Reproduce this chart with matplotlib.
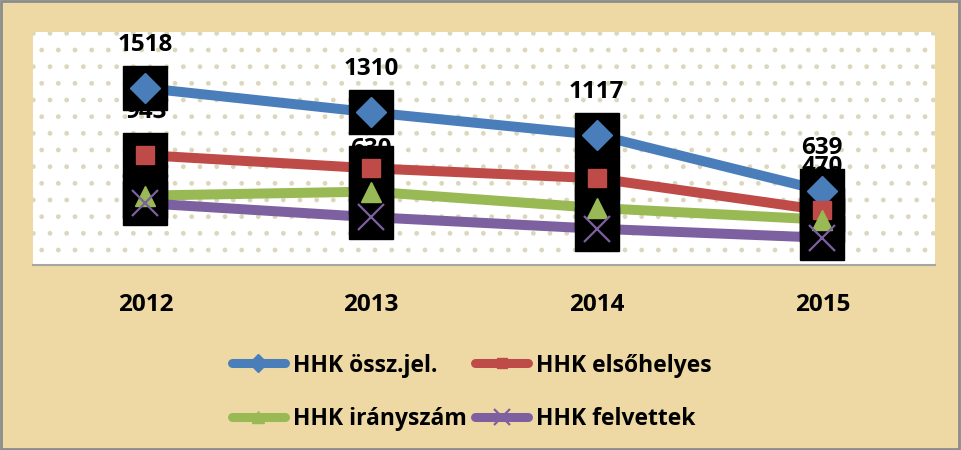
import matplotlib.pyplot as plt
from matplotlib.lines import Line2D
import numpy as np

plt.rcParams['font.family'] = ['Open Sans', 'DejaVu Sans']

# data
years = ['2012', '2013', '2014', '2015']
ossz_jel = [1518, 1310, 1117, 639]
elsohelyes = [943, 830, 745, 470]
iranyszam = [596, 630, 490, 390]
felvettek = [530, 411, 312, 235]

series = [
    ('HHK össz.jel.', ossz_jel, '#4a7ebb', 'D', 15, 1.0),
    ('HHK elsőhelyes', elsohelyes, '#be4b48', 's', 13, 1.0),
    ('HHK irányszám', iranyszam, '#98b954', '^', 15, 1.0),
    ('HHK felvettek', felvettek, '#7d60a0', 'x', 19, 1.6),
]

fig = plt.figure(figsize=(9.61, 4.5), dpi=100, facecolor='#eed9a4')
fig.patches.append(plt.Rectangle((0.001, 0.002), 0.997, 0.995, transform=fig.transFigure,
                                 fill=False, edgecolor='#8c8c8c', linewidth=2))
ax = fig.add_axes([0.034, 0.411, 0.939, 0.518])
ax.set_facecolor('white')
ax.patch.set_hatch('.')
ax.patch.set_edgecolor('#dcd7bb')
ax.patch.set_linewidth(0)

x = np.arange(len(years))
handles = []
for name, vals, col, mk, ms, mew in series:
    ax.plot(x, vals, color=col, lw=7.2, solid_capstyle='butt', zorder=2)
    # black label boxes behind the markers
    ax.plot(x, vals, ls='none', marker='s', ms=31, color='black', zorder=4)
    if mk == 'x':
        ax.plot(x, vals, ls='none', marker=mk, ms=ms, mew=mew, color=col, zorder=5)
    else:
        ax.plot(x, vals, ls='none', marker=mk, ms=ms, color=col, mec=col, zorder=5)
    for xi, v in zip(x, vals):
        ax.annotate(str(v), (xi, v), xytext=(0, 31), textcoords='offset points',
                    ha='center', va='center', fontsize=17.5, fontweight='bold',
                    color='black', zorder=3, annotation_clip=False)
    handles.append(Line2D([], [], color=col, lw=6.5, solid_capstyle='round',
                          marker=mk, ms=ms * 0.6, mew=mew, mec=col, label=name))

ax.set_xlim(-0.5, 3.5)
ax.set_ylim(0, 2000)
ax.set_xticks(x)
ax.set_xticklabels(years, fontsize=17.5, fontweight='bold')
ax.tick_params(axis='x', length=0, pad=20)
ax.set_yticks([])
for s in ['left', 'right', 'top']:
    ax.spines[s].set_visible(False)
ax.spines['bottom'].set_color('#a6a6a6')
ax.spines['bottom'].set_linewidth(1.5)

# row-wise order like the original legend
order = [0, 2, 1, 3]
fig.legend(handles=[handles[i] for i in order], loc='center', bbox_to_anchor=(0.491, 0.128),
           ncol=2, frameon=False, prop={'size': 16.5, 'weight': 'bold'},
           handlelength=2.3, handletextpad=0.35, columnspacing=0.4, labelspacing=1.3)

fig.savefig('out.png', dpi=100, facecolor=fig.get_facecolor())
